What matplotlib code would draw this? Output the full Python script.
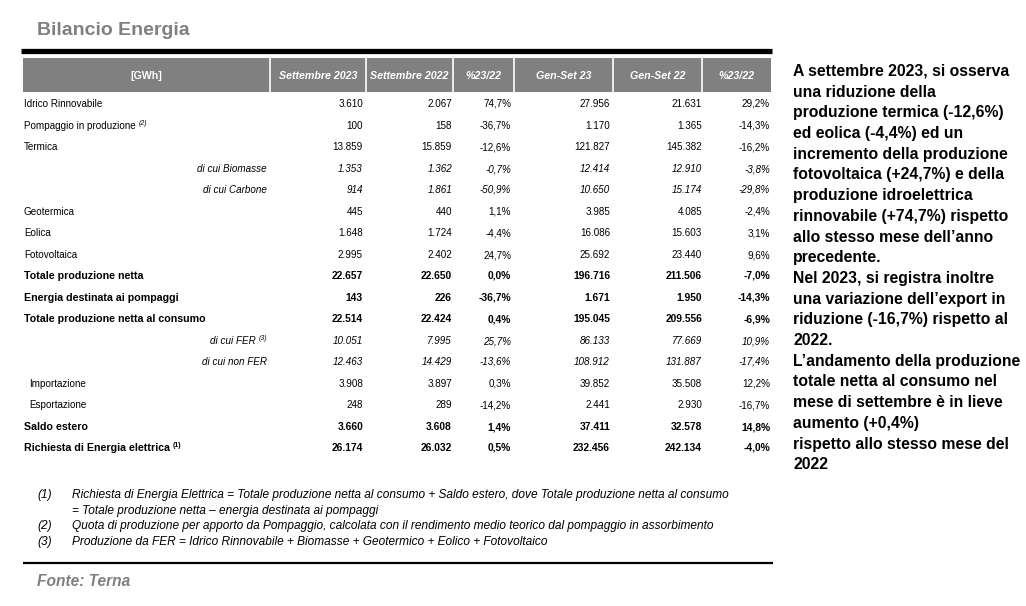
import matplotlib
matplotlib.use("Agg")
import matplotlib.pyplot as plt
from matplotlib.patches import Rectangle

plt.rcParams['font.family'] = ['Liberation Sans', 'DejaVu Sans']

# ---------------- data ----------------
title = "Bilancio Energia"
header = ["[GWh]", "Settembre 2023", "Settembre 2022", "%23/22", "Gen-Set 23", "Gen-Set 22", "%23/22"]

labels = ["Idrico Rinnovabile", "Pompaggio in produzione", "Termica", "di cui Biomasse",
          "di cui Carbone", "Geotermica", "Eolica", "Fotovoltaica", "Totale produzione netta",
          "Energia destinata ai pompaggi", "Totale produzione netta al consumo", "di cui FER",
          "di cui non FER", "Importazione", "Esportazione", "Saldo estero",
          "Richiesta di Energia elettrica"]
label_notes = {"Pompaggio in produzione": "(2)", "di cui FER": "(3)",
               "Richiesta di Energia elettrica": "(1)"}
# row style: n = normal, s = sub-item (italic), b = bold, i = indented normal
row_style = ["n", "n", "n", "s", "s", "n", "n", "n", "b", "b", "b", "s", "s", "i", "i", "b", "b"]

set23 = [3610, 100, 13859, 1353, 914, 445, 1648, 2995, 22657, 143, 22514, 10051, 12463, 3908, 248, 3660, 26174]
set22 = [2067, 158, 15859, 1362, 1861, 440, 1724, 2402, 22650, 226, 22424, 7995, 14429, 3897, 289, 3608, 26032]
pct_month = [74.7, -36.7, -12.6, -0.7, -50.9, 1.1, -4.4, 24.7, 0.0, -36.7, 0.4, 25.7, -13.6, 0.3, -14.2, 1.4, 0.5]
gs23 = [27956, 1170, 121827, 12414, 10650, 3985, 16086, 25692, 196716, 1671, 195045, 86133, 108912, 39852, 2441, 37411, 232456]
gs22 = [21631, 1365, 145382, 12910, 15174, 4085, 15603, 23440, 211506, 1950, 209556, 77669, 131887, 35508, 2930, 32578, 242134]
pct_ytd = [29.2, -14.3, -16.2, -3.8, -29.8, -2.4, 3.1, 9.6, -7.0, -14.3, -6.9, 10.9, -17.4, 12.2, -16.7, 14.8, -4.0]

footnotes = [
    ("(1)", ["Richiesta di Energia Elettrica = Totale produzione netta al consumo + Saldo estero, dove Totale produzione netta al consumo",
             "= Totale produzione netta \u2013 energia destinata ai pompaggi"]),
    ("(2)", ["Quota di produzione per apporto da Pompaggio, calcolata con il rendimento medio teorico dal pompaggio in assorbimento"]),
    ("(3)", ["Produzione da FER = Idrico Rinnovabile + Biomasse + Geotermico + Eolico + Fotovoltaico"]),
]
source = "Fonte: Terna"

commentary = [
    "A settembre 2023, si osserva",
    "una riduzione della",
    "produzione termica (-12,6%)",
    "ed eolica (-4,4%) ed un",
    "incremento della produzione",
    "fotovoltaica (+24,7%) e della",
    "produzione idroelettrica",
    "rinnovabile (+74,7%) rispetto",
    "allo stesso mese dell\u2019anno",
    "precedente.",
    "Nel 2023, si registra inoltre",
    "una variazione dell\u2019export in",
    "riduzione (-16,7%) rispetto al",
    "2022.",
    "L\u2019andamento della produzione",
    "totale netta al consumo nel",
    "mese di settembre \u00e8 in lieve",
    "aumento (+0,4%)",
    "rispetto allo stesso mese del",
    "2022",
]


def fmt_int(v):
    return f"{v:,}".replace(",", ".")


def fmt_pct(v):
    return f"{v:.1f}".replace(".", ",") + "%"


# ---------------- figure ----------------
W, H = 1026, 606
fig = plt.figure(figsize=(W / 100, H / 100), dpi=100)
ax = fig.add_axes([0, 0, 1, 1])
ax.set_xlim(0, W)
ax.set_ylim(H, 0)
ax.axis("off")

GRAY_HDR = "#808080"
GRAY_TXT = "#808080"

ax.text(37, 35, title, fontsize=14, fontweight="bold", color=GRAY_TXT, va="baseline", ha="left")

# thick top rule
ax.plot([21, 772], [50.5, 50.5], color="black", lw=3.8, solid_capstyle="butt")

# header band
col_edges = [23, 270, 366, 453, 514, 613, 702, 771]
ax.add_patch(Rectangle((col_edges[0], 58), col_edges[-1] - col_edges[0], 34, facecolor=GRAY_HDR, edgecolor="none"))
for xe in col_edges[1:-1]:
    ax.plot([xe, xe], [58, 92], color="white", lw=1.2)
for i, h in enumerate(header):
    cx = (col_edges[i] + col_edges[i + 1]) / 2
    style = "normal" if i == 0 else "italic"
    ax.text(cx, 79, h, color="white", fontsize=7.7, fontweight="bold", fontstyle=style,
            ha="center", va="baseline")

# rows
row_y0, row_dy = 103.5, 21.5
base_off = 3.8
value_right = [363, 452, 511, 610, 702, 770]
renderer = fig.canvas.get_renderer()


def text_right_px(t):
    bb = t.get_window_extent(renderer=renderer)
    inv = ax.transData.inverted()
    return inv.transform((bb.x1, bb.y1))[0]


for r, lab in enumerate(labels):
    y = round(row_y0 + r * row_dy + base_off)
    st = row_style[r]
    weight = "bold" if st == "b" else "normal"
    fstyle = "italic" if st == "s" else "normal"
    lsize = 7.7 if st == "b" else 7.1
    vsize = 7.4 if st == "b" else 7.1
    note = label_notes.get(lab)
    if st == "s":
        rx = 256 if note else 267
        ax.text(rx, y, lab, fontsize=lsize, fontstyle=fstyle, ha="right", va="baseline")
        if note:
            ax.text(rx + 3, y - 4, note, fontsize=5, fontstyle="italic", ha="left", va="baseline")
    else:
        lx = 29 if st == "i" else 24
        t = ax.text(lx, y, lab, fontsize=lsize, fontweight=weight, ha="left", va="baseline")
        if note:
            xr = text_right_px(t)
            ax.text(xr + 3, y - 4, note, fontsize=5, fontweight=weight,
                    fontstyle="italic" if st != "b" else "normal", ha="left", va="baseline")
    vals = [fmt_int(set23[r]), fmt_int(set22[r]), fmt_pct(pct_month[r]),
            fmt_int(gs23[r]), fmt_int(gs22[r]), fmt_pct(pct_ytd[r])]
    for c, v in enumerate(vals):
        ax.text(value_right[c], y, v, fontsize=vsize, fontweight=weight, fontstyle=fstyle,
                ha="right", va="baseline")

# footnotes
fy = 498
for num, lines in footnotes:
    ax.text(37, fy, num, fontsize=8.6, fontstyle="italic", ha="left", va="baseline")
    for ln in lines:
        ax.text(72, fy, ln, fontsize=8.6, fontstyle="italic", ha="left", va="baseline")
        fy += 15.7

# bottom rule and source
ax.plot([23, 773], [562.5, 562.5], color="black", lw=1.6, solid_capstyle="butt")
ax.text(37, 585.5, source, fontsize=11.2, fontweight="bold", fontstyle="italic",
        color=GRAY_TXT, ha="left", va="baseline")

# commentary on the right
cy0, cdy = 76, 20.7
for k, ln in enumerate(commentary):
    ax.text(793, cy0 + k * cdy, ln, fontsize=11.3, fontweight="bold", ha="left", va="baseline")

fig.savefig("out.png", dpi=100)
